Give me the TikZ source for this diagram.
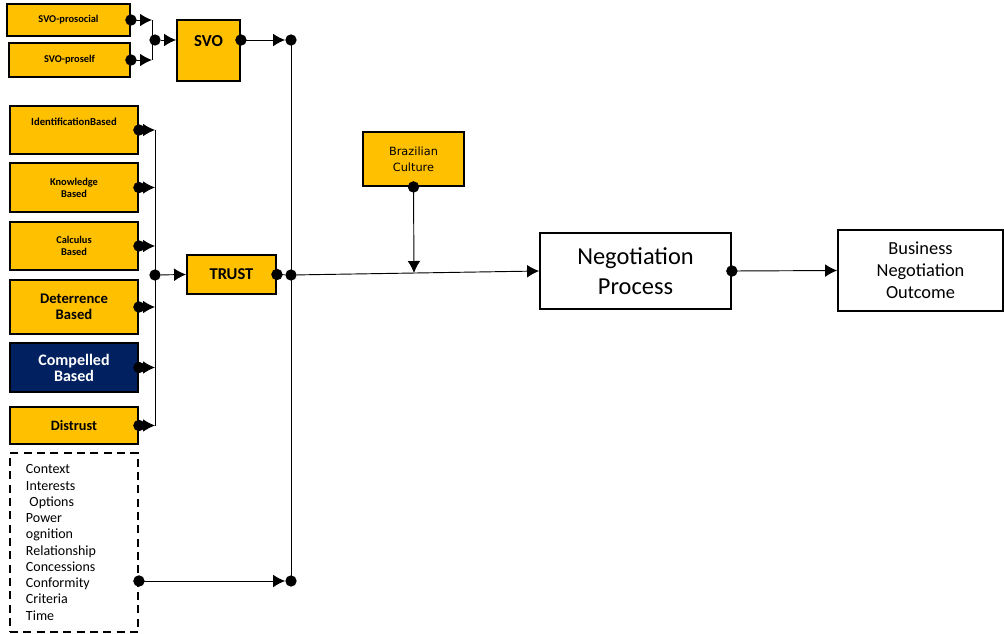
\documentclass[tikz,border=0pt]{standalone}
\usepackage{fontspec}
\setmainfont{Carlito}
\newfontfamily\widefont{DejaVu Sans}
\usetikzlibrary{arrows.meta,positioning}
\definecolor{amber}{HTML}{FFC000}
\definecolor{navy}{HTML}{002060}
\newcommand{\factorbox}[6]{
  \node[#5,minimum width=#3*0.75pt,minimum height=#4*0.75pt] (#1) at #2 {#6};
}

\begin{document}
\begin{tikzpicture}[x=0.75pt,y=-0.75pt,>=Latex,
  yellowbox/.style={draw,line width=1.4pt,fill=amber,align=center,inner sep=0pt},
  navybox/.style={yellowbox,fill=navy,text=white},
  plainbox/.style={draw,line width=1.3pt,fill=white,align=center,inner sep=0pt},
  listbox/.style={draw,line width=1.4pt,dash pattern=on 6pt off 4pt,align=left,
    text width=72pt,inner xsep=12pt,inner ysep=0pt},
  link/.style={line width=0.7pt,{Circle[length=8.5pt]}-{Latex[length=9pt,width=9.5pt]},shorten <=-4.25pt},
  tie/.style={line width=0.7pt,{Circle[length=8.5pt]}-,shorten <=-4.25pt},
  feed/.style={line width=0.7pt,-{Latex[length=9pt,width=9.5pt]}},
  jdot/.style={circle,fill,inner sep=0pt,minimum size=8.5pt}]
  \useasboundingbox (0,0) rectangle (1004,633);

  % social value orientation
  \factorbox{prosocial}{(68.5,20)}{123}{32}{yellowbox,font=\bfseries\fontsize{7.8}{9}\selectfont}{SVO-prosocial}
  \factorbox{proself}{(69.5,60)}{121}{34}{yellowbox,font=\bfseries\fontsize{7.8}{9}\selectfont}{SVO-proself}
  \factorbox{SVO}{(208.5,50.5)}{63}{61}{yellowbox,font=\bfseries\fontsize{12.6}{14}\selectfont}{\raisebox{15pt}{SVO}}

  % trust types
  \factorbox{ident}{(74,130)}{128}{48}{yellowbox,font=\bfseries\fontsize{8}{9.5}\selectfont}{IdentificationBased\\[3pt]\mbox{}}
  \factorbox{know}{(74,187.5)}{128}{49}{yellowbox,font=\bfseries\fontsize{7.8}{9}\selectfont}{Knowledge\\Based}
  \factorbox{calc}{(74,246)}{128}{48}{yellowbox,font=\bfseries\fontsize{7.8}{9.5}\selectfont}{Calculus\\Based}
  \factorbox{deter}{(74,307)}{128}{54}{yellowbox,font=\bfseries\fontsize{11}{12}\selectfont}{Deterrence\\Based}
  \factorbox{compel}{(74,367.5)}{128}{49}{navybox,font=\bfseries\fontsize{12}{12}\selectfont}{Compelled\\Based}
  \factorbox{distrust}{(74,425.5)}{128}{37}{yellowbox,font=\bfseries\fontsize{10.7}{12}\selectfont}{Distrust}
  \factorbox{TRUST}{(231.5,274.5)}{89}{39}{yellowbox,font=\bfseries\fontsize{12.4}{14}\selectfont}{TRUST}

  % context factors
  \factorbox{context}{(74,542.5)}{128}{179}{listbox,font=\fontsize{10.5}{12.2}\selectfont}{%
    Context\\Interests\\\hspace{0.25em}Options\\Power\\ognition\\Relationship\\Concessions\\Conformity\\Criteria\\Time}

  \factorbox{culture}{(413.5,159)}{101}{54}{yellowbox,font=\widefont\fontsize{8.5}{12}\selectfont}{Brazilian\\Culture}
  \factorbox{negotiation}{(635.5,271)}{191}{76}{plainbox,font=\fontsize{18.3}{23}\selectfont}{Negotiation\\Process}
  \factorbox{business}{(920.5,270.5)}{165}{81}{plainbox,font=\fontsize{13.8}{16.5}\selectfont}{Business\\Negotiation\\Outcome}

  % junctions
  \coordinate (svotop) at (152,20);
  \coordinate (svobot) at (152,60);
  \node[jdot] (svojoin) at (155,40) {};
  \coordinate (trusttop) at (155,130);
  \coordinate (trustbot) at (155,425.5);
  \node[jdot] (trustjoin) at (155,275) {};
  \node[jdot] (svobus) at (291,40) {};
  \node[jdot] (trustbus) at (291,275) {};
  \node[jdot] (contextbus) at (291,581) {};
  \coordinate (culturein) at (414,273);

  % connectors
  \draw[link] (prosocial.east) -- (svotop);
  \draw[link] (proself.east) -- (svobot);
  \draw[line width=0.7pt] (svotop) -- (svobot);
  \draw[feed] (svojoin) -- (svojoin -| SVO.west);
  \draw[link] (SVO.east |- svobus) -- (svobus);

  \foreach \src in {ident,know,calc,deter,compel,distrust}
    \draw[link] (\src.east) -- (\src.east -| trusttop);
  \draw[line width=0.7pt] (trusttop) -- (trustbot);
  \draw[feed] (trustjoin) -- (TRUST.west);
  \draw[tie] (TRUST.east) -- (trustbus);

  \draw[link] (context.east |- contextbus) -- (contextbus);
  \draw[line width=0.7pt] (svobus.center) -- (contextbus.center);

  \draw[feed] (trustbus) -- (negotiation.west);
  \draw[link] (culture.south) -- (culturein);
  \draw[link] (negotiation.east) -- (business.west);
\end{tikzpicture}
\end{document}
